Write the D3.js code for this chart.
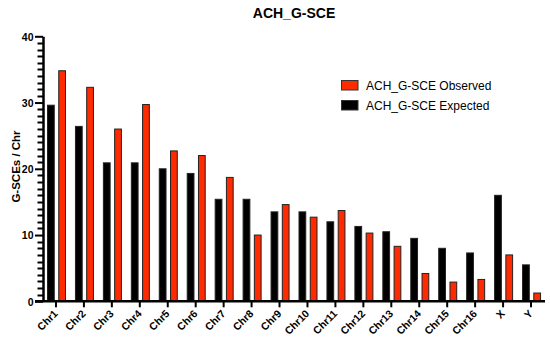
<!DOCTYPE html>
<html>
<head lang="en">
	<meta charset="UTF-8">
	<title>ACH_G-SCE</title>
	<script src="https://cdn.jsdelivr.net/npm/d3@7"></script>
	<style>
		body { margin: 0; background: #fff; }
		text { font-family: "Liberation Sans", Arial, sans-serif; }
	</style>
</head>
<body>
<script>

	var categories = ["Chr1", "Chr2", "Chr3", "Chr4", "Chr5", "Chr6", "Chr7", "Chr8", "Chr9",
		"Chr10", "Chr11", "Chr12", "Chr13", "Chr14", "Chr15", "Chr16", "X", "Y"];
	var expected = [29.6, 26.4, 20.9, 20.9, 20.0, 19.3, 15.4, 15.4, 13.5,
		13.5, 12.0, 11.3, 10.5, 9.5, 8.0, 7.3, 16.0, 5.5];
	var observed = [34.8, 32.3, 26.0, 29.7, 22.7, 22.0, 18.7, 10.0, 14.6,
		12.7, 13.7, 10.3, 8.3, 4.2, 2.9, 3.3, 7.0, 1.25];
	var seriesNames = ["ACH_G-SCE Expected", "ACH_G-SCE Observed"];
	var yTicks = [0, 10, 20, 30, 40];
	var yMinorTicks = [1, 2, 3, 4, 5, 6, 7, 8, 9, 11, 12, 13, 14, 15, 16, 17, 18, 19,
		21, 22, 23, 24, 25, 26, 27, 28, 29, 31, 32, 33, 34, 35, 36, 37, 38, 39];

	var W = 550, H = 347;
	var svg = d3.select("body").append("svg").attr("width", W).attr("height", H);

	var x = d3.scaleBand().domain(categories).range([42, 545]);
	var x1 = d3.scaleBand().domain(seriesNames).range([5.5, 23.5]).paddingInner(0.4);
	var y = d3.scaleLinear().domain([0, 40]).range([301.3, 36.3]);

	var colors = {"ACH_G-SCE Expected": "#000000", "ACH_G-SCE Observed": "#ff2a00"};

	// bars
	var groups = svg.append("g").selectAll("g").data(categories).enter().append("g")
		.attr("transform", function (d) { return "translate(" + x(d) + ",0)"; });

	groups.selectAll("rect")
		.data(function (d, i) {
			return [
				{s: seriesNames[0], v: expected[i]},
				{s: seriesNames[1], v: observed[i]}
			];
		})
		.enter().append("rect")
		.attr("x", function (d) { return x1(d.s); })
		.attr("width", x1.bandwidth())
		.attr("y", function (d) { return y(d.v); })
		.attr("height", function (d) { return y(0) - y(d.v); })
		.style("fill", function (d) { return colors[d.s]; })
		.style("stroke", "#222")
		.style("stroke-width", 1);

	// minor ticks on y axis
	svg.append("g").selectAll("line").data(yMinorTicks).enter().append("line")
		.attr("x1", 37.5).attr("x2", 43)
		.attr("y1", function (d) { return Math.round(y(d)) + 0.5; })
		.attr("y2", function (d) { return Math.round(y(d)) + 0.5; })
		.style("stroke", "#000")
		.style("stroke-width", 2);

	var yAxis = svg.append("g").attr("transform", "translate(43,0)")
		.call(d3.axisLeft(y).tickValues(yTicks).tickSize(8).tickSizeOuter(0));
	yAxis.select(".domain").style("stroke", "#000").style("stroke-width", 2.5);
	yAxis.selectAll("line").style("stroke", "#000").style("stroke-width", 2);
	yAxis.selectAll("text")
		.style("font-size", "10.5px").style("font-weight", "bold").attr("x", -9.5).attr("dy", "0.36em");

	// x axis
	var xAxis = svg.append("g").attr("transform", "translate(0," + y(0) + ")")
		.call(d3.axisBottom(x).tickSize(6).tickSizeOuter(0));
	xAxis.select(".domain").attr("d", "M35,0H545").style("stroke", "#000").style("stroke-width", 2.5);
	xAxis.selectAll("line").style("stroke", "#000").style("stroke-width", 2);
	xAxis.selectAll("text")
		.style("font-size", "10.5px").style("font-weight", "bold")
		.attr("text-anchor", "end")
		.attr("dy", null)
		.attr("transform", "translate(2.5,13) rotate(-45)")
		.attr("x", 0).attr("y", 0);

	// y axis title
	svg.append("text")
		.attr("transform", "translate(20,166.5) rotate(-90)")
		.attr("text-anchor", "middle")
		.style("font-size", "11.5px").style("font-weight", "bold")
		.text("G-SCEs / Chr");

	// title
	svg.append("text")
		.attr("x", 294).attr("y", 17.5)
		.attr("text-anchor", "middle")
		.style("font-size", "14px").style("font-weight", "bold")
		.text("ACH_G-SCE");

	// legend
	var legendOrder = [seriesNames[1], seriesNames[0]];
	var legend = svg.append("g").selectAll("g").data(legendOrder).enter().append("g")
		.attr("transform", function (d, i) { return "translate(341.5," + (80.5 + i * 20) + ")"; });
	legend.append("rect")
		.attr("width", 16.5).attr("height", 9.5)
		.style("fill", function (d) { return colors[d]; })
		.style("stroke", "#333").style("stroke-width", 1);
	legend.append("text")
		.attr("x", 24.5).attr("y", 9.5)
		.style("font-size", "12px")
		.text(function (d) { return d; });

</script>
</body>
</html>
